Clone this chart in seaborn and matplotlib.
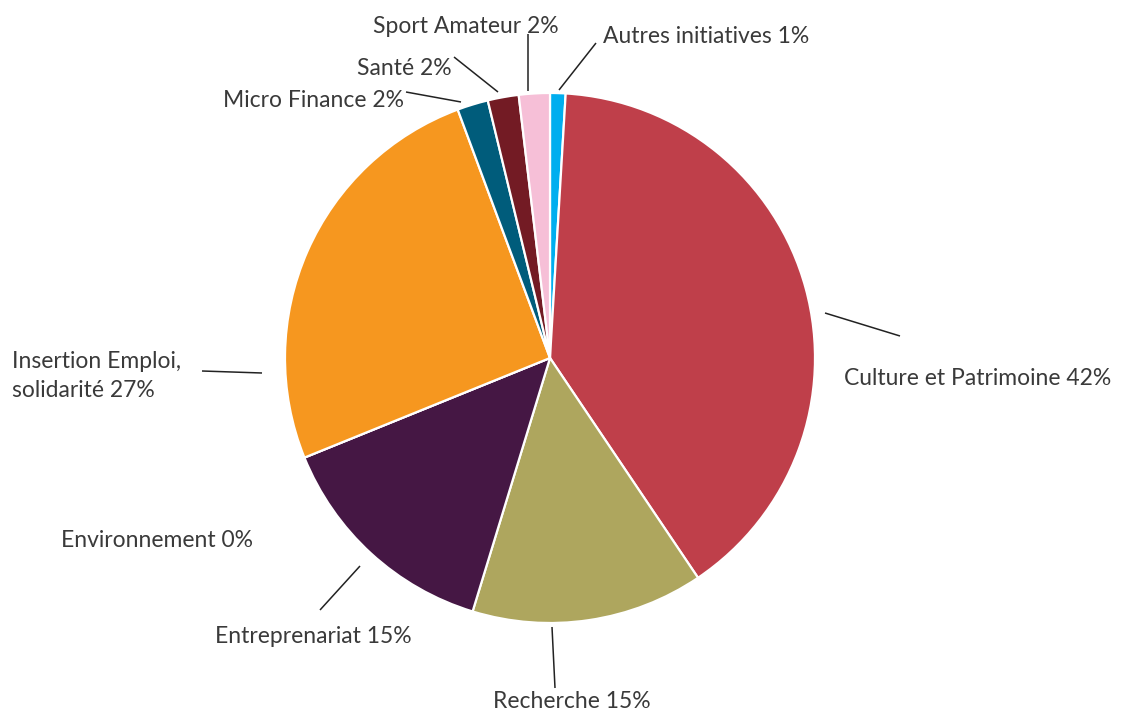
import matplotlib
matplotlib.use("Agg")
import matplotlib.pyplot as plt
import seaborn as sns

# Répartition des engagements par domaine (sens horaire depuis midi)
categories = [
    "Autres initiatives",
    "Culture et Patrimoine",
    "Recherche",
    "Entreprenariat",
    "Environnement",
    "Insertion Emploi,\nsolidarité",
    "Micro Finance",
    "Santé",
    "Sport Amateur",
]
shares = [1, 42, 15, 15, 0, 27, 2, 2, 2]
colors = [
    "#00aeef",
    "#bf3f4a",
    "#aea65e",
    "#451744",
    "#6a9a3a",
    "#f6971f",
    "#005c7b",
    "#731b24",
    "#f6bfd7",
]

sns.set_theme(style="white")
plt.rcParams["font.family"] = ["Lato", "DejaVu Sans"]

W, H, DPI = 1121, 711, 100
CX, CY, R = 550, 358, 265  # pie centre and radius in pixels


def px(x, y):
    """Pixel position (from top-left) to data coordinates of the pie axes."""
    return (x - CX) / R, (CY - y) / R


fig = plt.figure(figsize=(W / DPI, H / DPI), dpi=DPI)
ax = fig.add_axes([0, 0, 1, 1])

palette = sns.color_palette(colors)
ax.pie(
    shares,
    colors=palette,
    startangle=90,
    counterclock=False,
    radius=1.0,
    center=(0, 0),
    wedgeprops=dict(edgecolor="white", linewidth=1.6),
)

ax.set_xlim(-CX / R, (W - CX) / R)
ax.set_ylim(-(H - CY) / R, CY / R)
ax.set_aspect("auto")
ax.axis("off")

# label text: anchor pixel, alignment, leader line (outer end, inner end)
layout = {
    "Autres initiatives": ((603, 43), "left", (596, 43), (559, 90)),
    "Culture et Patrimoine": ((844, 385), "left", (900, 336), (825, 313)),
    "Recherche": ((493, 708), "left", (555, 688), (552, 627)),
    "Entreprenariat": ((412, 643), "right", (320, 610), (360, 566)),
    "Environnement": ((253, 547), "right", None, None),
    "Insertion Emploi,\nsolidarité": ((12, 397), "left", (202, 371), (262, 373)),
    "Micro Finance": ((404, 107), "right", (406, 92), (461, 102)),
    "Santé": ((452, 75), "right", (454, 57), (498, 92)),
    "Sport Amateur": ((559, 33), "right", (528, 34), (528, 91)),
}

text_kw = dict(fontsize=16.5, fontweight="normal", color="#3a3a3a",
               va="baseline", linespacing=1.45)

for name, value in zip(categories, shares):
    (tx, ty), ha, p_out, p_in = layout[name]
    ax.text(*px(tx, ty), f"{name} {value}%", ha=ha, **text_kw)
    if p_out is not None:
        (x0, y0), (x1, y1) = px(*p_out), px(*p_in)
        ax.plot([x0, x1], [y0, y1], color="#222222", linewidth=1.1,
                solid_capstyle="butt")

fig.savefig("out.png", dpi=DPI, facecolor="white")
